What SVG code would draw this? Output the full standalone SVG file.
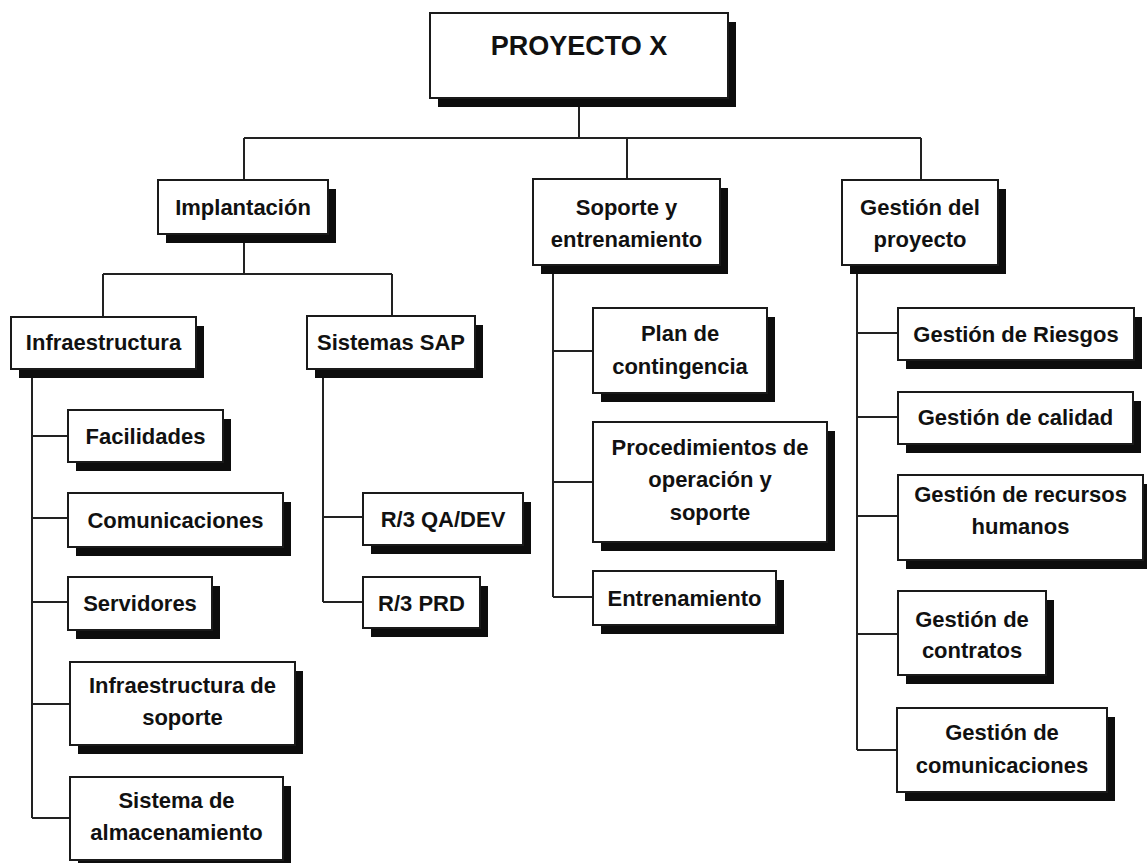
<svg xmlns="http://www.w3.org/2000/svg" width="1147" height="863" viewBox="0 0 1147 863">
  <style>
    .box { fill: #ffffff; stroke: #1a1a1a; stroke-width: 2; }
    .shadow { fill: #0d0d0d; }
    .lbl { font-family: "Liberation Sans", Arial, sans-serif; font-weight: bold; font-size: 22px; fill: #111111; text-anchor: middle; }
    .root { font-size: 27px; }
    .conn { fill: none; stroke: #222222; stroke-width: 2; }
  </style>
  <rect width="1147" height="863" fill="#ffffff"/>

  <!-- connectors -->
  <g id="connectors" class="conn">
    <path d="M579 98 V138 M244 138 H921 M244 138 V180 M627 138 V179 M921 138 V180"/>
    <path d="M244 234 V274 M103 274 H392 M103 274 V317 M392 274 V316"/>
    <path d="M32 369 V818 M32 436 H68 M32 518 H68 M32 602 H68 M32 704 H70 M32 818 H70"/>
    <path d="M323 369 V602 M323 517 H363 M323 602 H363"/>
    <path d="M553 265 V597 M553 351 H593 M553 482 H593 M553 597 H593"/>
    <path d="M857 265 V750 M857 333 H898 M857 417 H898 M857 516 H898 M857 634 H898 M857 750 H897"/>
  </g>

  <!-- top level -->
  <g id="proyecto-x">
    <rect class="shadow" x="438" y="22" width="298" height="85"/>
    <rect class="box" x="430" y="13" width="298" height="85"/>
    <text class="lbl root" x="579" y="55">PROYECTO X</text>
  </g>

  <!-- second level -->
  <g id="implantacion">
    <rect class="shadow" x="166" y="189" width="170" height="54"/>
    <rect class="box" x="158" y="180" width="170" height="54"/>
    <text class="lbl" x="243" y="215">Implantación</text>
  </g>
  <g id="soporte-entrenamiento">
    <rect class="shadow" x="541" y="188" width="187" height="86"/>
    <rect class="box" x="533" y="179" width="187" height="86"/>
    <text class="lbl" x="626.5" y="215">Soporte y</text>
    <text class="lbl" x="626.5" y="247">entrenamiento</text>
  </g>
  <g id="gestion-proyecto">
    <rect class="shadow" x="850" y="189" width="156" height="85"/>
    <rect class="box" x="842" y="180" width="156" height="85"/>
    <text class="lbl" x="920" y="215">Gestión del</text>
    <text class="lbl" x="920" y="247">proyecto</text>
  </g>

  <!-- Implantación branch -->
  <g id="infraestructura">
    <rect class="shadow" x="19" y="326" width="185" height="52"/>
    <rect class="box" x="11" y="317" width="185" height="52"/>
    <text class="lbl" x="103.5" y="350">Infraestructura</text>
  </g>
  <g id="sistemas-sap">
    <rect class="shadow" x="315" y="325" width="168" height="53"/>
    <rect class="box" x="307" y="316" width="168" height="53"/>
    <text class="lbl" x="391" y="350">Sistemas SAP</text>
  </g>

  <g id="facilidades">
    <rect class="shadow" x="76" y="419" width="155" height="52"/>
    <rect class="box" x="68" y="410" width="155" height="52"/>
    <text class="lbl" x="145.5" y="444">Facilidades</text>
  </g>
  <g id="comunicaciones">
    <rect class="shadow" x="76" y="502" width="215" height="54"/>
    <rect class="box" x="68" y="493" width="215" height="54"/>
    <text class="lbl" x="175.5" y="528">Comunicaciones</text>
  </g>
  <g id="servidores">
    <rect class="shadow" x="76" y="586" width="144" height="53"/>
    <rect class="box" x="68" y="577" width="144" height="53"/>
    <text class="lbl" x="140" y="611">Servidores</text>
  </g>
  <g id="infraestructura-soporte">
    <rect class="shadow" x="78" y="671" width="225" height="83"/>
    <rect class="box" x="70" y="662" width="225" height="83"/>
    <text class="lbl" x="182.5" y="693">Infraestructura de</text>
    <text class="lbl" x="182.5" y="725">soporte</text>
  </g>
  <g id="sistema-almacenamiento">
    <rect class="shadow" x="78" y="786" width="213" height="83"/>
    <rect class="box" x="70" y="777" width="213" height="83"/>
    <text class="lbl" x="176.5" y="808">Sistema de</text>
    <text class="lbl" x="176.5" y="840">almacenamiento</text>
  </g>

  <g id="r3-qa-dev">
    <rect class="shadow" x="371" y="502" width="160" height="52"/>
    <rect class="box" x="363" y="493" width="160" height="52"/>
    <text class="lbl" x="443" y="527">R/3 QA/DEV</text>
  </g>
  <g id="r3-prd">
    <rect class="shadow" x="371" y="586" width="117" height="51"/>
    <rect class="box" x="363" y="577" width="117" height="51"/>
    <text class="lbl" x="421.5" y="611">R/3 PRD</text>
  </g>

  <!-- Soporte y entrenamiento branch -->
  <g id="plan-contingencia">
    <rect class="shadow" x="601" y="317" width="174" height="85"/>
    <rect class="box" x="593" y="308" width="174" height="85"/>
    <text class="lbl" x="680" y="341">Plan de</text>
    <text class="lbl" x="680" y="374">contingencia</text>
  </g>
  <g id="procedimientos">
    <rect class="shadow" x="601" y="431" width="234" height="120"/>
    <rect class="box" x="593" y="422" width="234" height="120"/>
    <text class="lbl" x="710" y="455">Procedimientos de</text>
    <text class="lbl" x="710" y="487">operación y</text>
    <text class="lbl" x="710" y="520">soporte</text>
  </g>
  <g id="entrenamiento">
    <rect class="shadow" x="601" y="580" width="183" height="54"/>
    <rect class="box" x="593" y="571" width="183" height="54"/>
    <text class="lbl" x="684.5" y="606">Entrenamiento</text>
  </g>

  <!-- Gestión del proyecto branch -->
  <g id="gestion-riesgos">
    <rect class="shadow" x="906" y="317" width="236" height="52"/>
    <rect class="box" x="898" y="308" width="236" height="52"/>
    <text class="lbl" x="1016" y="342">Gestión de Riesgos</text>
  </g>
  <g id="gestion-calidad">
    <rect class="shadow" x="906" y="401" width="235" height="52"/>
    <rect class="box" x="898" y="392" width="235" height="52"/>
    <text class="lbl" x="1015.5" y="425">Gestión de calidad</text>
  </g>
  <g id="gestion-recursos">
    <rect class="shadow" x="906" y="484" width="245" height="85"/>
    <rect class="box" x="898" y="475" width="245" height="85"/>
    <text class="lbl" x="1020.5" y="502">Gestión de recursos</text>
    <text class="lbl" x="1020.5" y="534">humanos</text>
  </g>
  <g id="gestion-contratos">
    <rect class="shadow" x="906" y="600" width="148" height="84"/>
    <rect class="box" x="898" y="591" width="148" height="84"/>
    <text class="lbl" x="972" y="627">Gestión de</text>
    <text class="lbl" x="972" y="658">contratos</text>
  </g>
  <g id="gestion-comunicaciones">
    <rect class="shadow" x="905" y="717" width="210" height="84"/>
    <rect class="box" x="897" y="708" width="210" height="84"/>
    <text class="lbl" x="1002" y="740">Gestión de</text>
    <text class="lbl" x="1002" y="773">comunicaciones</text>
  </g>
</svg>
